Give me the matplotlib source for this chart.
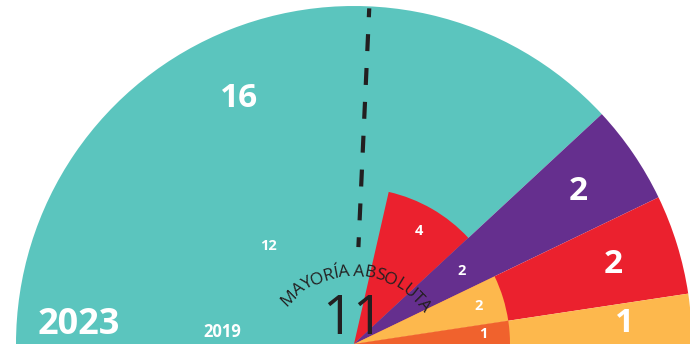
import numpy as np
import matplotlib
matplotlib.use("Agg")
import matplotlib.pyplot as plt
from matplotlib.patches import Wedge
from matplotlib.font_manager import FontProperties, findfont, get_font

plt.rcParams['lines.scale_dashes'] = False

# Data
parties_2023 = ["Teal", "Purple", "Red", "Yellow"]
seats_2023 = [16, 2, 2, 1]
colors_2023 = ["#5BC5BE", "#652F8E", "#EB212E", "#FDB84D"]

parties_2019 = ["Teal", "Red", "Purple", "Yellow", "Orange"]
seats_2019 = [12, 4, 2, 2, 1]
colors_2019 = ["#5BC5BE", "#EB212E", "#652F8E", "#FDB84D", "#F0622D"]

total_seats = 21
majority = 11
majority_label = "MAYORÍA ABSOLUTA"
year_outer = "2023"
year_inner = "2019"

W, H = 690, 347
fig = plt.figure(figsize=(W / 100, H / 100), dpi=100)
ax = fig.add_axes([0, 0, 1, 1])
ax.set_xlim(0, W)
ax.set_ylim(0, H)
ax.set_aspect('equal')
ax.axis('off')

cx, cy = 354, 3
R_out = 338
R_in = 156
FONT = 'Open Sans'

def draw_ring(seats, colors, radius, label_r, fs, zo, ang_shift=None):
    start = 180.0
    for i, (s, c) in enumerate(zip(seats, colors)):
        span = 180.0 * s / total_seats
        end = start - span
        ax.add_patch(Wedge((cx, cy), radius, end, start, facecolor=c, edgecolor='none', zorder=zo))
        mid = (start + end) / 2
        if ang_shift and i in ang_shift:
            mid += ang_shift[i]
        m = np.deg2rad(mid)
        ax.text(cx + label_r * np.cos(m), cy + label_r * np.sin(m), str(s),
                color='white', fontsize=fs, fontweight='bold', family=FONT,
                ha='center', va='center', zorder=5)
        start = end

draw_ring(seats_2023, colors_2023, R_out, 271, 24, 2, ang_shift={0: 3.6})
draw_ring(seats_2019, colors_2019, R_in, 130, 10.5, 3, ang_shift={0: 2.4})

# majority dashed line (top to bottom)
ang = np.deg2rad(87.4)
r_top, r_bot = 336, 97
ax.plot([cx + r_top * np.cos(ang), cx + r_bot * np.cos(ang)],
        [cy + r_top * np.sin(ang), cy + r_bot * np.sin(ang)],
        color='#231F20', lw=3, linestyle=(5.8, (12.2, 12.2)), zorder=6,
        dash_capstyle='butt')

# year labels
ax.text(79, 22, year_outer, color='white', fontsize=26, fontweight='bold', family=FONT,
        ha='center', va='center', zorder=5)
ax.text(222, 15, year_inner, color='white', fontsize=12, fontweight='bold', family=FONT,
        ha='center', va='center', zorder=5)

# majority number
ax.text(353, 28, str(majority), color='#231F20', fontsize=39, family=FONT,
        ha='center', va='center', zorder=6)

# curved text along arc
fs = 12.5
font = get_font(findfont(FontProperties(family=FONT)))
font.set_size(fs, 100)
adv = []
for ch in majority_label:
    g = font.load_char(ord(ch))
    adv.append(g.linearHoriAdvance / 65536.0)
adv = np.array(adv)
tcx, tcy = 353, -15
r_base = 86
span_deg = 105.0
center_ang = 87.5
scale = np.deg2rad(span_deg) * r_base / adv.sum()
adv = adv * scale
a = center_ang + span_deg / 2
for ch, w in zip(majority_label, adv):
    dth = np.rad2deg(w / r_base)
    mid = a - dth / 2
    rad = np.deg2rad(mid)
    ax.text(tcx + r_base * np.cos(rad), tcy + r_base * np.sin(rad), ch, fontsize=fs, family=FONT,
            color='#231F20', rotation=mid - 90, ha='center', va='baseline',
            rotation_mode='anchor', zorder=6)
    a -= dth

fig.savefig('out.png', dpi=100)
